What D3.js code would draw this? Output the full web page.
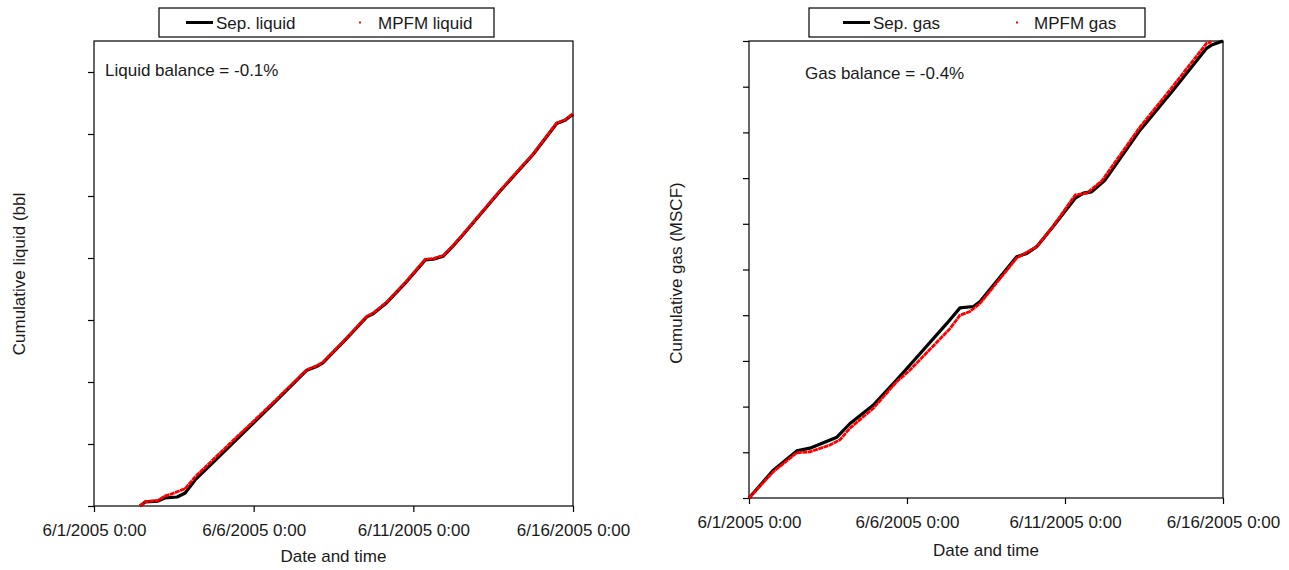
<!DOCTYPE html>
<html>
<head>
<meta charset="utf-8">
<script src="https://cdn.jsdelivr.net/npm/d3@7"></script>
<style>
  body { margin: 0; background: #fff; }
  svg text { font-family: "Liberation Sans", Arial, sans-serif; font-size: 17px; fill: #1a1a1a; }
</style>
</head>
<body>
<div id="chart"></div>
<script>
// x tick labels (same on both panels)
var xTickLabels = ['6/1/2005 0:00', '6/6/2005 0:00', '6/11/2005 0:00', '6/16/2005 0:00'];

// liquid panel, cumulative liquid (arbitrary tick units, no labels in the original)
var sepLiqTimes = ['06-02 10:30','06-02 14:30','06-03 00:00','06-03 05:15','06-03 14:30','06-03 20:30',
  '06-04 04:00','06-05 06:15','06-06 12:15','06-07 16:00','06-07 23:15','06-08 04:00','06-08 20:30',
  '06-09 13:00','06-09 17:45','06-10 04:00','06-10 17:45','06-11 09:00','06-11 15:00','06-11 22:30',
  '06-12 05:45','06-12 13:30','06-13 17:15','06-14 18:00','06-15 11:45','06-15 18:00','06-16 00:00'];
var sepLiqVals = [0, 0.065, 0.08, 0.13, 0.145, 0.21,
  0.42, 0.97, 1.60, 2.19, 2.25, 2.31, 2.67,
  3.05, 3.10, 3.28, 3.59, 3.97, 3.98, 4.03,
  4.19, 4.38, 5.08, 5.67, 6.17, 6.22, 6.32];

var mpfmLiqTimes = ['06-02 10:30','06-02 14:30','06-03 00:00','06-03 05:15','06-03 11:00','06-03 20:30',
  '06-04 04:00','06-05 06:15','06-06 12:15','06-07 16:00','06-07 23:15','06-08 04:00','06-08 20:30',
  '06-09 13:00','06-09 17:45','06-10 04:00','06-10 17:45','06-11 09:00','06-11 15:00','06-11 22:30',
  '06-12 05:45','06-12 13:30','06-13 17:15','06-14 18:00','06-15 11:45','06-15 18:00','06-16 00:00'];
var mpfmLiqVals = [0, 0.07, 0.09, 0.16, 0.20, 0.28,
  0.47, 1.01, 1.62, 2.20, 2.26, 2.32, 2.68,
  3.06, 3.11, 3.29, 3.60, 3.98, 3.99, 4.04,
  4.20, 4.39, 5.09, 5.68, 6.18, 6.23, 6.33];

// gas panel, cumulative gas
var sepGasTimes = ['06-01 00:00','06-01 18:30','06-02 12:15','06-02 22:15','06-03 18:45','06-04 04:45',
  '06-04 22:15','06-05 16:00','06-06 02:15','06-07 06:15','06-07 16:15','06-08 02:30','06-08 07:30',
  '06-09 11:15','06-09 19:00','06-10 02:30','06-10 15:00','06-11 07:45','06-11 14:00','06-11 20:15',
  '06-12 06:30','06-13 09:00','06-14 10:15','06-15 11:30','06-15 15:15','06-16 00:00'];
var sepGasVals = [0, 0.61, 1.03, 1.09, 1.33, 1.63,
  2.03, 2.58, 2.91, 3.82, 4.16, 4.19, 4.30,
  5.28, 5.35, 5.50, 5.94, 6.56, 6.67, 6.70,
  6.96, 8.05, 8.93, 9.84, 9.91, 10.0];

var mpfmGasTimes = ['06-01 00:00','06-01 18:15','06-02 12:15','06-02 22:15','06-03 13:30','06-03 21:00',
  '06-04 04:45','06-04 22:15','06-05 16:00','06-06 02:15','06-07 08:45','06-07 16:15','06-07 23:45',
  '06-08 07:30','06-09 11:15','06-10 02:30','06-10 15:00','06-11 07:45','06-11 16:30','06-12 04:00',
  '06-13 09:00','06-14 10:15','06-15 11:30','06-15 15:15'];
var mpfmGasVals = [0, 0.57, 0.99, 1.01, 1.16, 1.27,
  1.53, 1.96, 2.54, 2.80, 3.71, 4.00, 4.08,
  4.26, 5.25, 5.50, 5.95, 6.63, 6.67, 6.94,
  8.12, 9.02, 9.95, 9.98];

var parse = d3.timeParse('%Y-%m-%d %H:%M');
function series(times, vals) {
  return times.map(function(t, i) { return { t: parse('2005-' + t), v: vals[i] }; });
}

var svg = d3.select('#chart').append('svg')
  .attr('width', 1289)
  .attr('height', 570);

var panels = [
  { left: 94, right: 573, top: 41, bottom: 506, yMax: 7.5, yTicks: d3.range(0, 8),
    sep: series(sepLiqTimes, sepLiqVals), mpfm: series(mpfmLiqTimes, mpfmLiqVals),
    sepName: 'Sep. liquid', mpfmName: 'MPFM liquid', note: 'Liquid balance = -0.1%',
    noteX: 105, noteY: 76, yTitle: 'Cumulative liquid (bbl', yTitleX: 25, yTitleY: 274,
    legend: { x: 159, w: 335, lineX: 186, textX: 216, dotX: 360, text2X: 378 },
    labelY: 536, titleY: 562 },
  { left: 749, right: 1223, top: 41, bottom: 498, yMax: 10, yTicks: d3.range(0, 11),
    sep: series(sepGasTimes, sepGasVals), mpfm: series(mpfmGasTimes, mpfmGasVals),
    sepName: 'Sep. gas', mpfmName: 'MPFM gas', note: 'Gas balance = -0.4%',
    noteX: 805, noteY: 79, yTitle: 'Cumulative gas (MSCF)', yTitleX: 682, yTitleY: 273,
    legend: { x: 809, w: 336, lineX: 843, textX: 873, dotX: 1017, text2X: 1034 },
    labelY: 528, titleY: 556 }
];

panels.forEach(function(p) {
  var x = d3.scaleTime()
    .domain([parse('2005-06-01 00:00'), parse('2005-06-16 00:00')])
    .range([p.left, p.right]);
  var y = d3.scaleLinear().domain([0, p.yMax]).range([p.bottom, p.top]);
  var xTicks = [1, 6, 11, 16].map(function(d) { return new Date(2005, 5, d); });

  var g = svg.append('g');

  // frame
  g.append('rect')
    .attr('x', p.left).attr('y', p.top)
    .attr('width', p.right - p.left).attr('height', p.bottom - p.top)
    .attr('fill', 'none').attr('stroke', '#000').attr('stroke-width', 1.2);

  // axes
  var xAxis = d3.axisBottom(x).tickValues(xTicks).tickSize(6)
    .tickFormat(function(d, i) { return xTickLabels[i]; });
  var ax = g.append('g').attr('transform', 'translate(0,' + p.bottom + ')').call(xAxis);
  ax.select('.domain').remove();
  ax.selectAll('line').attr('stroke', '#000').attr('stroke-width', 1.2);
  ax.selectAll('text').attr('y', p.labelY - p.bottom).attr('dy', 0)
    .style('font-size', '17px').style('font-family', '"Liberation Sans", Arial, sans-serif')
    .attr('fill', '#1a1a1a');

  var yAxis = d3.axisLeft(y).tickValues(p.yTicks).tickSize(6).tickFormat('');
  var ay = g.append('g').attr('transform', 'translate(' + p.left + ',0)').call(yAxis);
  ay.select('.domain').remove();
  ay.selectAll('line').attr('stroke', '#000').attr('stroke-width', 1.2);

  // axis titles
  g.append('text').attr('x', (p.left + p.right) / 2).attr('y', p.titleY)
    .attr('text-anchor', 'middle').text('Date and time');
  g.append('text')
    .attr('transform', 'translate(' + p.yTitleX + ',' + p.yTitleY + ') rotate(-90)')
    .attr('text-anchor', 'middle').text(p.yTitle);

  // balance note
  g.append('text').attr('x', p.noteX).attr('y', p.noteY).text(p.note);

  // series
  var line = d3.line().x(function(d) { return x(d.t); }).y(function(d) { return y(d.v); });
  g.append('path').datum(p.sep).attr('d', line)
    .attr('fill', 'none').attr('stroke', '#000').attr('stroke-width', 3.2)
    .attr('stroke-linejoin', 'round');
  g.append('path').datum(p.mpfm).attr('d', line)
    .attr('fill', 'none').attr('stroke', '#f00').attr('stroke-width', 2.8)
    .attr('stroke-dasharray', '5,0.5');

  // legend
  var L = p.legend;
  var lg = g.append('g');
  lg.append('rect').attr('x', L.x).attr('y', 8).attr('width', L.w).attr('height', 29)
    .attr('fill', '#fff').attr('stroke', '#000').attr('stroke-width', 1.2);
  lg.append('line').attr('x1', L.lineX).attr('x2', L.lineX + 27).attr('y1', 22.5).attr('y2', 22.5)
    .attr('stroke', '#000').attr('stroke-width', 3);
  lg.append('text').attr('x', L.textX).attr('y', 28.5).text(p.sepName);
  lg.append('rect').attr('x', L.dotX - 1).attr('y', 21.5).attr('width', 2).attr('height', 2)
    .attr('fill', '#f00');
  lg.append('text').attr('x', L.text2X).attr('y', 28.5).text(p.mpfmName);
});
</script>
</body>
</html>
